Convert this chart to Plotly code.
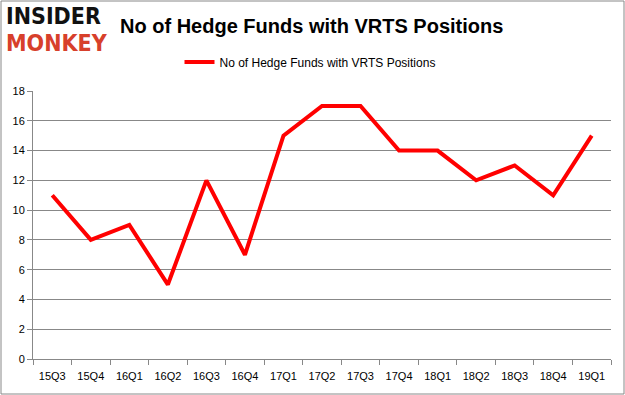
import plotly.graph_objects as go

quarters = ["15Q3","15Q4","16Q1","16Q2","16Q3","16Q4","17Q1","17Q2","17Q3","17Q4","18Q1","18Q2","18Q3","18Q4","19Q1"]
funds = [11, 8, 9, 5, 12, 7, 15, 17, 17, 14, 14, 12, 13, 11, 15]
series_name = "No of Hedge Funds with VRTS Positions"

L, R, T, B = 33, 14, 91, 36
W, H = 625, 395
PW, PH = W - L - R, H - T - B

def px(x):
    return (x - L) / PW

def py(y):
    return (H - B - y) / PH

fig = go.Figure()
fig.add_trace(go.Scatter(x=quarters, y=funds, mode="lines", name=series_name,
                         line=dict(color="#ff0000", width=4)))

fig.update_layout(
    width=W, height=H,
    margin=dict(l=L, r=R, t=T, b=B, autoexpand=False),
    paper_bgcolor="white", plot_bgcolor="white",
    showlegend=True,
    legend=dict(orientation="h", x=px(310), xanchor="center", y=py(62), yanchor="middle",
                font=dict(family="Liberation Sans, Arial", size=12, color="#000"),
                bgcolor="rgba(0,0,0,0)"),
    font=dict(family="Liberation Sans, Arial", size=11, color="#000"),
    xaxis=dict(type="category", showgrid=False, showline=True, linecolor="#888",
               ticks="outside", tickson="boundaries", ticklen=5, tickcolor="#888",
               ticklabelstandoff=7,
               tickfont=dict(size=11), range=[-0.5, 14.5]),
    yaxis=dict(range=[0, 18], dtick=2, showgrid=True, gridcolor="#888", gridwidth=1,
               showline=True, linecolor="#888", ticks="outside", ticklen=5, tickcolor="#888",
               zeroline=False, tickfont=dict(size=11)),
    shapes=[dict(type="rect", xref="paper", yref="paper", x0=px(1), x1=px(W - 1),
                 y0=py(H - 1), y1=py(1), line=dict(color="#888", width=1))],
    annotations=[
        dict(text="<b>No of Hedge Funds with VRTS Positions</b>", xref="paper", yref="paper",
             x=px(311.5), y=py(26), xanchor="center", yanchor="middle",
             showarrow=False, font=dict(family="Liberation Sans, Arial", size=20, color="#000")),
        dict(text="<b>INSIDER</b>", xref="paper", yref="paper", x=px(4), y=py(16),
             xanchor="left", yanchor="middle", showarrow=False,
             font=dict(family="DejaVu Sans Condensed, DejaVu Sans", size=23, color="#111")),
        dict(text="<b>MONKEY</b>", xref="paper", yref="paper", x=px(4), y=py(43),
             xanchor="left", yanchor="middle", showarrow=False,
             font=dict(family="DejaVu Sans Condensed, DejaVu Sans", size=23, color="#d7402b")),
    ],
)

fig.write_html("out.html", config={"displayModeBar": False},
               post_script="document.body.style.margin='0';document.body.style.overflow='hidden';")
